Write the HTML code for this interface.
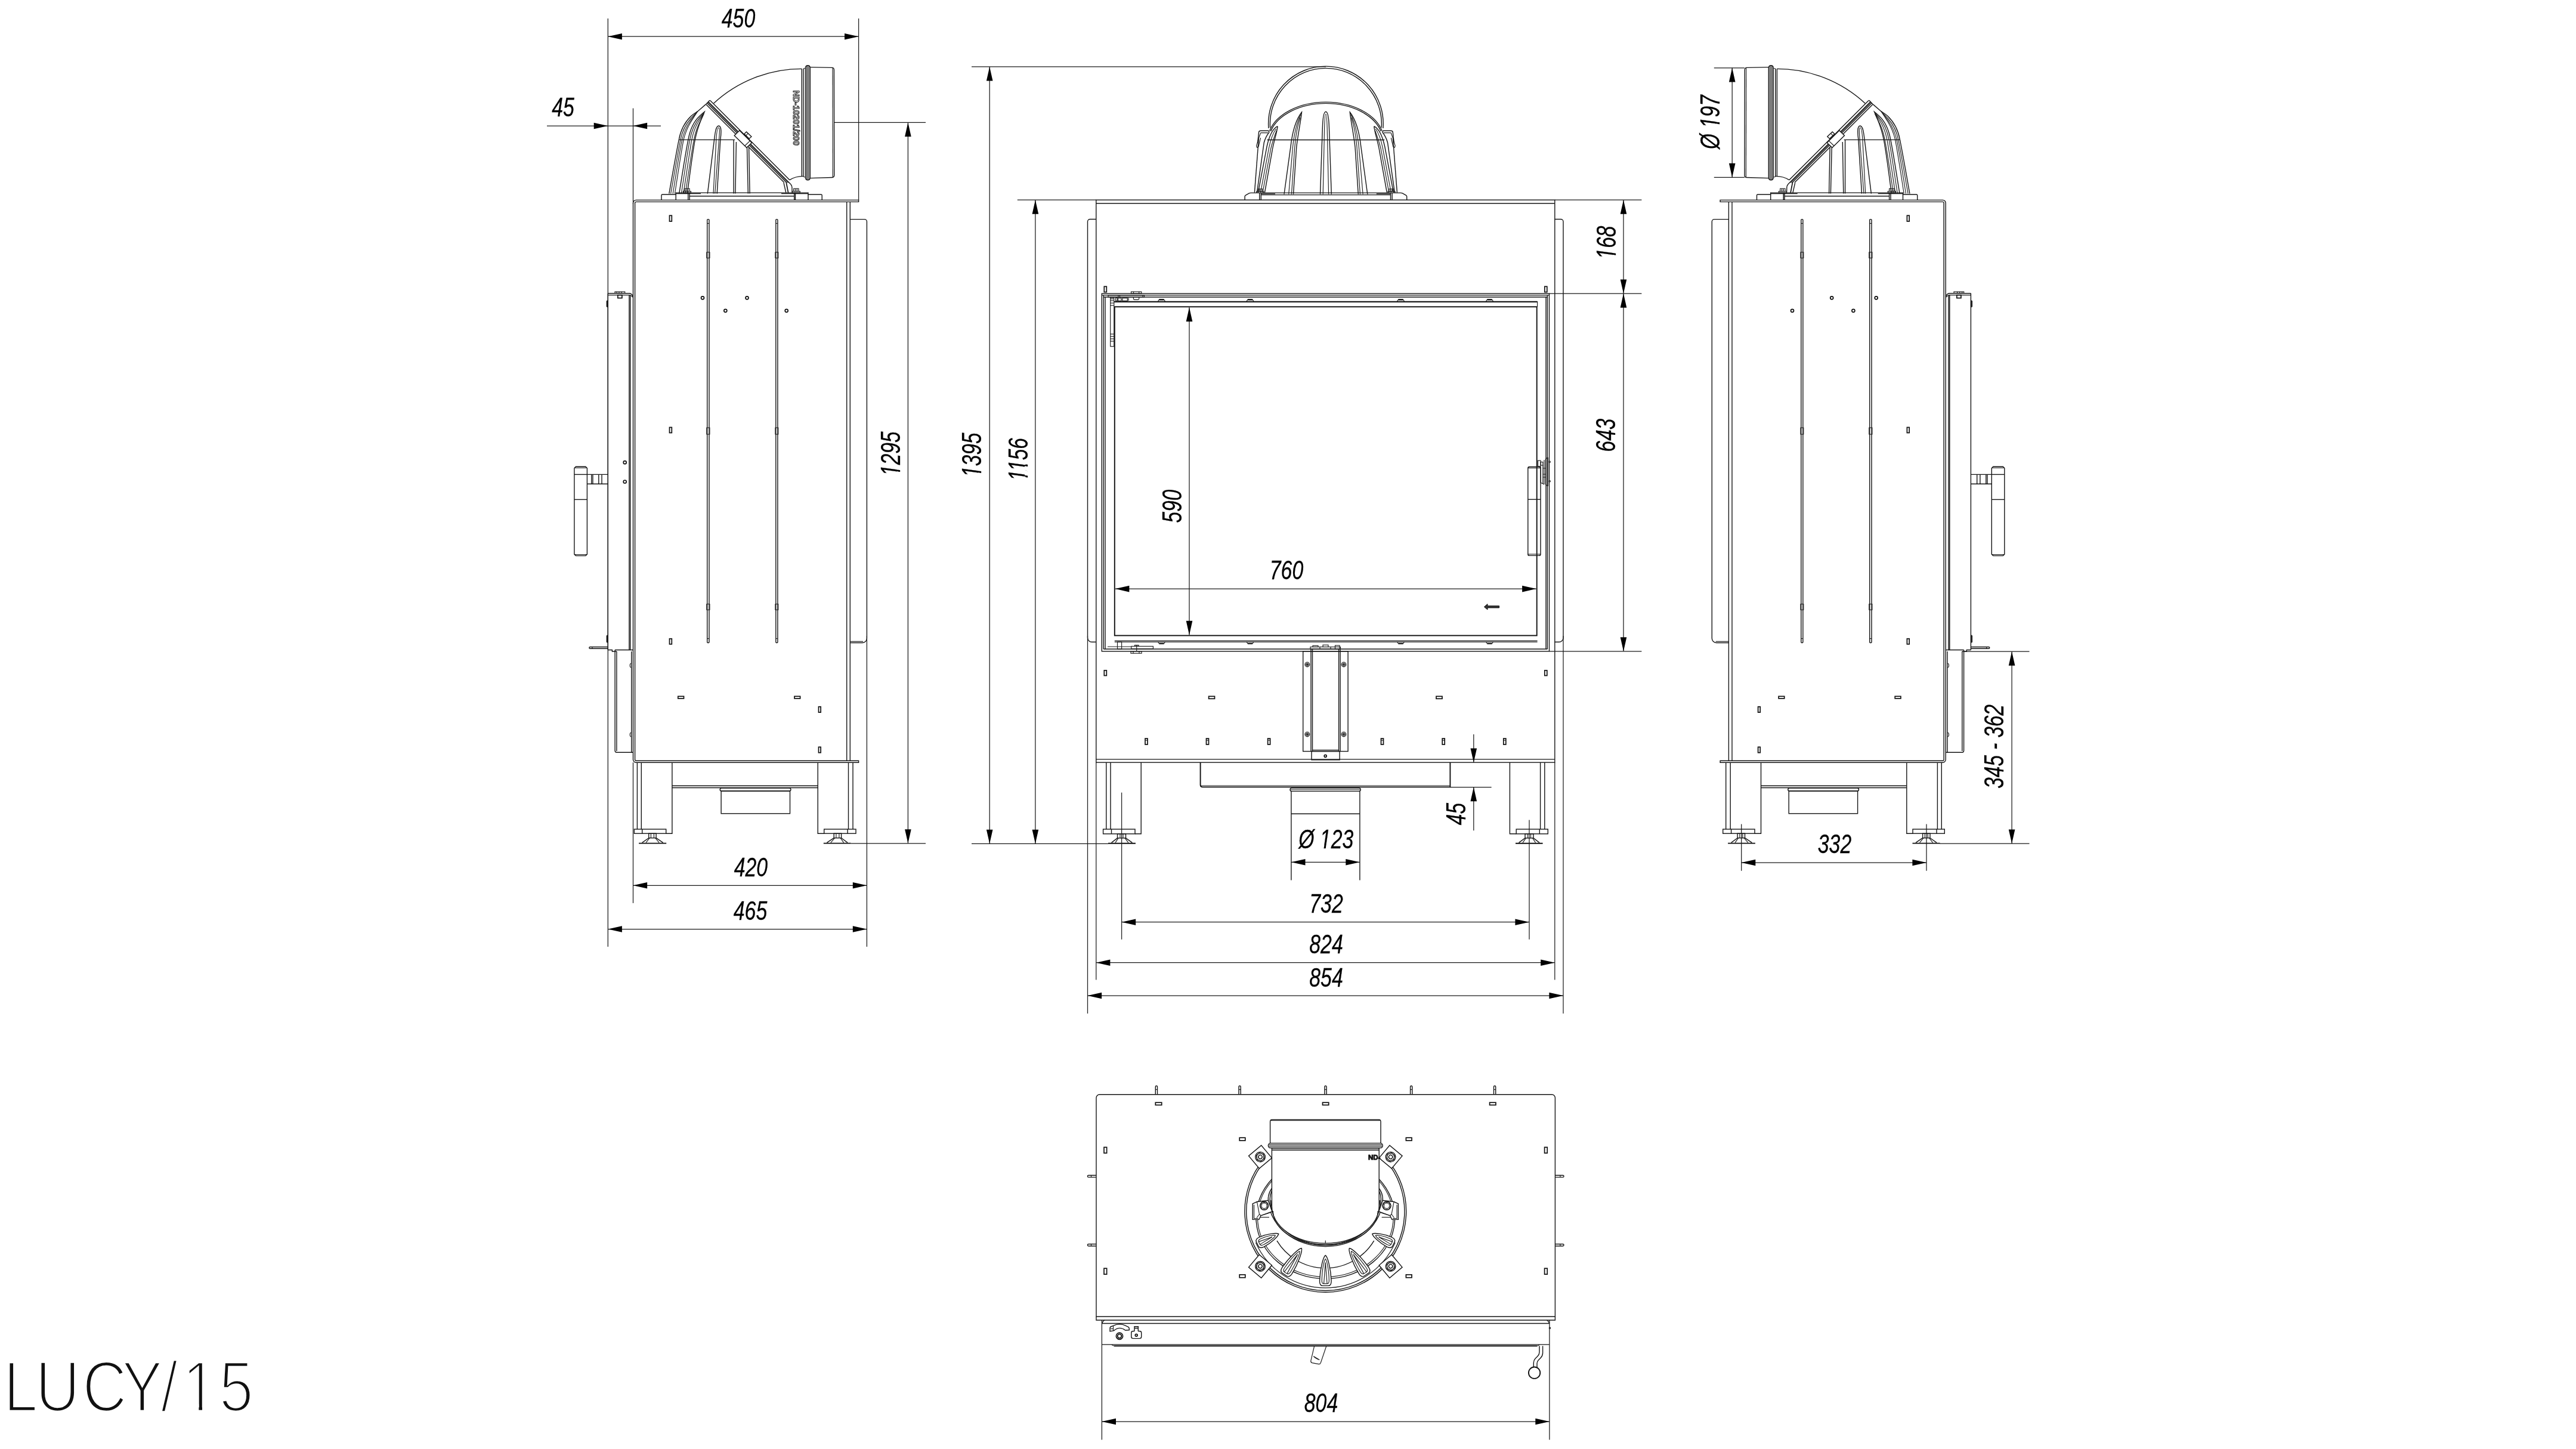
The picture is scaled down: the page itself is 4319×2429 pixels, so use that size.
<!DOCTYPE html>
<html lang="en"><head><meta charset="utf-8"><title>LUCY/15</title>
<style>
html,body{margin:0;padding:0;background:#fff}
body{width:4319px;height:2429px;overflow:hidden}
svg{display:block;will-change:transform;opacity:.999}
.l{fill:none;stroke:#151515;stroke-width:1.4}
.w{fill:#fff;stroke:#151515;stroke-width:1.4}
.k{fill:none;stroke:#111;stroke-width:1.9}
.s{fill:none;stroke:#111;stroke-width:1.7}
.n{fill:none;stroke:#1c1c1c;stroke-width:1.15}
.d{fill:none;stroke:#1a1a1a;stroke-width:1.25}
.a{fill:#000;stroke:none}
.dt{font-family:"Liberation Sans",sans-serif;font-style:italic;fill:#000;text-anchor:middle;stroke:#000;stroke-width:.3}
.nd{font-family:"Liberation Sans",sans-serif;font-weight:bold;fill:#fff;stroke:#111;stroke-width:1}
.ttl{font-family:"Liberation Sans",sans-serif;fill:#111;stroke:#fff;stroke-width:4.6px;paint-order:fill stroke}
</style></head><body>
<svg width="4319" height="2429" viewBox="0 0 4319 2429">
<rect x="0" y="0" width="4319" height="2429" fill="#fff"/>
<defs><g id="side">
<path class="l" d="M1439.6,335.4H1066.5A5,5 0 0 0 1061.5,340.4V1273.2A5,5 0 0 0 1066.5,1278.2H1439.6V1275.2H1066.6A2,2 0 0 1 1064.6,1273.2V340.4A2,2 0 0 1 1066.6,338.4H1439.6Z"/>
<path class="l" d="M1419.7,338.4L1419.7,1275.2"/>
<path class="l" d="M1425.3,338.4L1425.3,1275.2"/>
<path class="l" d="M1425.3,367.6H1449.4A4,4 0 0 1 1453.4,371.6V1070A7.5,7.5 0 0 1 1446,1077.5H1425.3"/>
<path class="n" d="M1425.3,1075.3L1447,1075.3"/>
<rect class="l" x="1185.7" y="367.6" width="3.3" height="709.9" rx="1.2"/>
<path class="n" d="M1185.7,374.5L1189,374.5"/>
<path class="n" d="M1185.7,1070.5L1189,1070.5"/>
<rect class="n" x="1184.8" y="422.8" width="5.1" height="9.7"/>
<rect class="n" x="1184.8" y="717" width="5.1" height="11"/>
<rect class="n" x="1184.8" y="1012.6" width="5.1" height="9.7"/>
<rect class="l" x="1300.8" y="367.6" width="3.1" height="709.9" rx="1.2"/>
<path class="n" d="M1300.8,374.5L1303.9,374.5"/>
<path class="n" d="M1300.8,1070.5L1303.9,1070.5"/>
<rect class="n" x="1299.9" y="422.8" width="4.9" height="9.7"/>
<rect class="n" x="1299.9" y="717" width="4.9" height="11"/>
<rect class="n" x="1299.9" y="1012.6" width="4.9" height="9.7"/>
<rect class="s" x="1122.5" y="361.3" width="3.8" height="9.7"/>
<rect class="s" x="1122.5" y="716.4" width="3.8" height="9.1"/>
<rect class="s" x="1122.5" y="1070.7" width="3.8" height="9.1"/>
<rect class="s" x="1136.8" y="1167.3" width="9.7" height="3.6"/>
<rect class="s" x="1332" y="1167.3" width="9.6" height="3.6"/>
<rect class="s" x="1372.5" y="1184.7" width="3.6" height="9.4"/>
<rect class="s" x="1372.5" y="1252.3" width="3.6" height="9.4"/>
<circle class="s" cx="1178" cy="499.3" r="2.5"/>
<circle class="s" cx="1252.5" cy="499.3" r="2.5"/>
<circle class="s" cx="1216.3" cy="520.8" r="2.5"/>
<circle class="s" cx="1318.7" cy="520.8" r="2.5"/>
<path class="l" d="M1019.3,491.8H1055.5Q1059,492.2 1061.3,496.6"/>
<path class="l" d="M1019.3,494.6H1055Q1058.5,495 1061.3,498.2"/>
<rect class="n" x="1031" y="489" width="16.7" height="2.4"/>
<path class="n" d="M1034,489L1034,491.4"/>
<path class="n" d="M1038,489L1038,491.4"/>
<path class="n" d="M1042,489L1042,491.4"/>
<rect class="s" x="1035.8" y="494.6" width="7.1" height="5"/>
<path class="l" d="M1054.9,494.6L1054.9,1089.5"/>
<path class="l" d="M1056.7,494.6L1056.7,1089.5"/>
<path class="l" d="M1019.3,491.8L1019.3,1089.5"/>
<path d="M1019.3,503.9H1018Q1017,503.9 1017,505V513.6Q1017,514.7 1018,514.7H1019.3ZM1019.3,1065H1018Q1017,1065 1017,1066V1076Q1017,1077 1018,1077H1019.3Z" fill="#222" stroke="#111" stroke-width="0.8"/>
<path class="l" d="M965.4,782.3H981.9L984.4,784.8V929.1L981.9,931.6H965.4L962.9,929.1V784.8Z"/>
<path class="n" d="M963.5,784.3L983.8,784.3"/>
<path class="l" d="M962.9,795.4L984.4,795.4"/>
<path class="l" d="M962.9,837.4L984.4,837.4"/>
<path class="n" d="M963.5,929.6L983.8,929.6"/>
<path class="l" d="M984.4,795.4H1019.3M984.4,811.2H1019.3"/>
<path class="l" d="M991.7,795.4L991.7,811.2"/>
<path class="l" d="M993.9,795.4L993.9,811.2"/>
<path class="l" d="M1003.8,795.4L1003.8,811.2"/>
<path class="l" d="M1009,795.4L1009,811.2"/>
<path class="l" d="M1019.3,1084.5H989.3A1.4,1.4 0 0 0 989.3,1087.3H1019.3"/>
<path class="n" d="M993,1084.5L993,1087.3"/>
<path class="l" d="M1019.3,1089.5H1026.4V1092H1033.9"/>
<path class="l" d="M1031.1,1089.5H1061.5M1031.1,1089.5V1258.2A3,3 0 0 0 1034.1,1261.2H1061.5"/>
<path class="l" d="M1033.9,1092L1033.9,1259"/>
<path class="l" d="M1058.7,1092L1058.7,1261.2"/>
<path class="n" d="M1058.7,1112A2.5,3.5 0 0 0 1058.7,1119M1058.7,1228A2.5,3.5 0 0 0 1058.7,1235"/>
<path class="l" d="M1068.4,1278.2V1390M1075.3,1278.2V1390M1126.9,1278.2V1397.2H1116.7"/>
<rect class="l" x="1063.4" y="1390" width="53.3" height="7.2"/>
<path class="l" d="M1076.7,1390L1076.7,1397.2"/>
<path class="l" d="M1371.2,1278.2V1397.2H1381.7M1422.5,1278.2V1390M1430,1278.2V1390"/>
<rect class="l" x="1381.7" y="1390" width="53.3" height="7.2"/>
<path class="l" d="M1421.1,1390L1421.1,1397.2"/>
<path class="l" d="M1126.9,1317.2H1371.2M1126.9,1320.5H1371.2"/>
<rect class="l" x="1207.2" y="1321" width="118.7" height="5" rx="2.5"/>
<rect class="l" x="1209.1" y="1326" width="115.4" height="37.8"/>
<rect class="l" x="1087.7" y="1397.2" width="12.4" height="7.5"/>
<path class="n" d="M1091.4,1397.2L1091.4,1404.7"/>
<path class="n" d="M1096.4,1397.2L1096.4,1404.7"/>
<path class="l" d="M1087.7,1404.7L1076.6,1412.6M1100.1,1404.7L1111.7,1412.6"/>
<path class="n" d="M1089.2,1404.7L1083.1,1412.6M1098.6,1404.7L1105.2,1412.6"/>
<path class="k" d="M1071.1,1413.6L1117.2,1413.6"/>
<rect class="l" x="1398.2" y="1397.2" width="12.4" height="7.5"/>
<path class="n" d="M1401.9,1397.2L1401.9,1404.7"/>
<path class="n" d="M1406.9,1397.2L1406.9,1404.7"/>
<path class="l" d="M1398.2,1404.7L1386.3,1412.6M1410.6,1404.7L1421.1,1412.6"/>
<path class="n" d="M1399.7,1404.7L1392.8,1412.6M1409.1,1404.7L1414.6,1412.6"/>
<path class="k" d="M1380.8,1413.6L1426.6,1413.6"/>
<path class="l" d="M1109,335.4V327.5Q1109,326 1110.5,326H1133.2V323.1H1355V326H1376.7Q1378.2,326 1378.2,327.5V335.4"/>
<path class="l" d="M1133.2,326V335.4M1355,326V335.4M1153.7,323.1V335.4M1156.1,323.1V335.4M1331.7,323.1V335.4M1333.5,323.1V335.4M1156.1,328.7H1331.7"/>
<path class="n" d="M1133.2,324.6H1175M1310,324.6H1355"/>
<rect class="n" x="1145.4" y="320.6" width="13" height="2.5"/>
<rect class="n" x="1147.7" y="316.2" width="8.4" height="4.4"/>
<path class="n" d="M1150.5,316.2L1150.5,320.6"/>
<path class="n" d="M1153.3,316.2L1153.3,320.6"/>
<rect class="n" x="1328.3" y="320.6" width="13" height="2.5"/>
<rect class="n" x="1330.6" y="316.2" width="8.4" height="4.4"/>
<path class="n" d="M1333.4,316.2L1333.4,320.6"/>
<path class="n" d="M1336.2,316.2L1336.2,320.6"/>
<path class="l" d="M1121.8,324.6C1127.5,292 1133.5,258 1138.3,234.2C1141,219 1147,206 1158.5,194.8C1163,190.5 1167,188.5 1169.7,186.7L1183.4,174.9"/>
<path class="n" d="M1124.6,324.6C1130.5,292 1136,258 1141,234.2C1143.5,221 1149,209 1158.5,198.5C1162.5,194 1166.5,190 1169.7,186.7"/>
<path class="n" d="M1128.2,324.6C1133.5,292 1138.5,258 1143.6,234.2C1146.5,222 1151,212 1157.5,203C1161.5,197.5 1166,191 1169.7,186.7"/>
<path class="n" d="M1131.5,324.6C1136.5,292 1141.5,258 1146.1,234.2C1148.5,224 1152.5,214 1158,205C1162,198.5 1166.5,191.5 1169.7,186.7"/>
<path class="l" d="M1138.7,324.6C1144,292 1149,258 1153.9,234.2C1157,217 1163,204 1172.8,194.8C1176,191.8 1179,189 1181.2,187.3C1179.5,191.5 1177.5,196 1175.9,199.8C1172,209 1168,221 1165.3,234.2C1161,258 1156.5,292 1152.4,324.6"/>
<path class="n" d="M1142.3,324.6C1147.5,292 1152,258 1156.6,234.2C1159.5,219 1165,206.5 1173.5,197L1180,189.5M1145.8,324.6C1151,292 1155.5,258 1159.8,234.2C1162.5,220.5 1167,209 1174,199.5L1180,190.5M1149.2,324.6C1154,292 1159,258 1163.5,234.2C1166,221 1170,210 1175,201.5L1180.3,190.5"/>
<path class="l" d="M1186.3,324.6L1197.5,234.7C1199,222 1200.3,211 1205,211C1209.7,211 1209.5,222 1207.8,234.7L1202.2,324.6"/>
<path class="n" d="M1196,324.6L1200.8,234.7C1201.5,222 1202.5,214 1205,214C1207,214 1206.5,222 1205.5,234.7L1198.7,324.6"/>
<path class="l" d="M1230.1,234.7V324.6M1234.4,238L1232.9,324.6M1252.5,246.8L1254.3,324.6M1255.6,246.8L1257.1,324.6"/>
<path class="l" d="M1138.3,234.4L1232,234.4"/>
<path class="l" d="M1344.3,115.4A217.6,217.6 0 0 0 1196.6,173.2"/>
<path class="l" d="M1324,301.6Q1333,295.6 1347,295.4"/>
<path class="l" d="M1191.0,168.8L1323.9,301.7M1187.8,170.8L1325.7,308.7M1185.7,172.9L1319.2,306.4M1184.3,175.5L1314.8,306.1"/>
<path class="n" d="M1186.9,171.7L1321.6,306.4"/>
<path class="l" d="M1184.3,175.5Q1183.5,174.7 1184.3,173.9L1189.4,168.8Q1190.2,168.0 1191.0,168.8"/>
<path class="l" d="M1314,306.3L1317.8,323.1M1325.7,308.7Q1327.6,311 1327.9,314L1328.1,323.1"/>
<path class="s" d="M1318.1,305.2L1321.6,323.1"/>
<path class="w" d="M1231.2,227.2L1239.9,218.8L1260.5,239.2L1251.8,247.6Z"/>
<path class="n" d="M1248.7,244.5L1257.4,236.1"/>
<path class="w" d="M1247.8,224.4L1251.5,221L1259.9,229.1L1256.2,232.4Z"/>
<path class="n" d="M1250.6,227.1L1254.3,223.7"/>
<path class="l" d="M1344.3,115.4L1344.3,296"/>
<path class="l" d="M1347,115L1347,296.3"/>
<rect class="l" x="1350.4" y="109.8" width="8" height="191.9" rx="3.6"/>
<path class="n" d="M1352.4,110.5L1352.4,301"/>
<path class="n" d="M1354.4,110L1354.4,301.5"/>
<path class="n" d="M1356.4,110.5L1356.4,301"/>
<path class="n" d="M1347,115L1350.3,114.5"/>
<path class="n" d="M1347,296.3L1350.3,297"/>
<path class="l" d="M1358.4,112.6L1395.2,113.4Q1398.3,113.6 1398.4,117L1398.7,294Q1398.6,297.4 1395.2,297.5L1358.4,298.6"/>
<path class="n" d="M1396,113.6L1396.3,297.4"/>
</g></defs>
<use href="#side"/>
<use href="#side" transform="translate(4323.7,0) scale(-1,1)"/>
<circle class="s" cx="1047.7" cy="775.2" r="2.5"/>
<circle class="s" cx="1047.7" cy="807.5" r="2.5"/>
<text class="nd" font-size="14.2" transform="translate(1330,151.6) rotate(90)">ND-10201/200</text>
<path class="d" d="M1019.3,31L1019.3,1587"/>
<path class="d" d="M1439.6,31L1439.6,335.4"/>
<path class="d" d="M1019.3,61.2L1439.6,61.2"/>
<path class="a" d="M1019.3,61.2L1042.9,55.9L1042.9,66.5Z"/>
<path class="a" d="M1439.6,61.2L1416,55.9L1416,66.5Z"/>
<g transform="translate(1238,46.2) rotate(0) scale(0.752,1)"><text class="dt" font-size="45.0">450</text></g>
<path class="d" d="M1061.5,181.5L1061.5,342"/>
<path class="d" d="M917,211L1108,211"/>
<path class="a" d="M1019.3,211L995.7,205.7L995.7,216.3Z"/>
<path class="a" d="M1061.5,211L1085.1,205.7L1085.1,216.3Z"/>
<g transform="translate(944,195.2) rotate(0) scale(0.752,1)"><text class="dt" font-size="45.0">45</text></g>
<path class="d" d="M1398.7,205.3L1552,205.3"/>
<path class="d" d="M1426.6,1413.8L1552,1413.8"/>
<path class="d" d="M1522.4,205.3L1522.4,1413.8"/>
<path class="a" d="M1522.4,205.3L1517.1,228.9L1527.7,228.9Z"/>
<path class="a" d="M1522.4,1413.8L1517.1,1390.2L1527.7,1390.2Z"/>
<g transform="translate(1508.6,760.6) rotate(-90) scale(0.715,1)"><text class="dt" font-size="46.6">1295</text><path fill="#fff" d="M-52.7,1.6L-42.9,1.6L-41.6,-4.9L-51.7,-4.9ZM-38.5,1.6L-28.4,1.6L-27.1,-4.9L-37.2,-4.9Z"/></g>
<path class="d" d="M1061.5,1278.2L1061.5,1513.9"/>
<path class="d" d="M1453.4,1066L1453.4,1587"/>
<path class="d" d="M1061.5,1484.3L1453.4,1484.3"/>
<path class="a" d="M1061.5,1484.3L1085.1,1479L1085.1,1489.6Z"/>
<path class="a" d="M1453.4,1484.3L1429.8,1479L1429.8,1489.6Z"/>
<g transform="translate(1258.9,1469.3) rotate(0) scale(0.752,1)"><text class="dt" font-size="45.0">420</text></g>
<path class="d" d="M1019.3,1557.5L1453.4,1557.5"/>
<path class="a" d="M1019.3,1557.5L1042.9,1552.2L1042.9,1562.8Z"/>
<path class="a" d="M1453.4,1557.5L1429.8,1552.2L1429.8,1562.8Z"/>
<g transform="translate(1258,1541.9) rotate(0) scale(0.752,1)"><text class="dt" font-size="45.0">465</text></g>
<path class="d" d="M2873.8,113.8L2924.9,113.8"/>
<path class="d" d="M2873.8,297.4L2924.9,297.4"/>
<path class="d" d="M2904.2,113.8L2904.2,297.4"/>
<path class="a" d="M2904.2,113.8L2898.9,137.4L2909.5,137.4Z"/>
<path class="a" d="M2904.2,297.4L2898.9,273.8L2909.5,273.8Z"/>
<g transform="translate(2882.7,204.6) rotate(-90) scale(0.715,1)"><text class="dt" font-size="46.6">Ø 197</text><path fill="#fff" d="M-15.2,1.6L-5.4,1.6L-4.1,-4.9L-14.2,-4.9ZM-1,1.6L9.2,1.6L10.4,-4.9L0.3,-4.9Z"/></g>
<path class="d" d="M2919.7,1381.6L2919.7,1459.7"/>
<path class="d" d="M3230,1381.6L3230,1459.7"/>
<path class="d" d="M2919.7,1446L3230,1446"/>
<path class="a" d="M2919.7,1446L2943.3,1440.7L2943.3,1451.3Z"/>
<path class="a" d="M3230,1446L3206.4,1440.7L3206.4,1451.3Z"/>
<g transform="translate(3076,1429.8) rotate(0) scale(0.752,1)"><text class="dt" font-size="45.0">332</text></g>
<path class="d" d="M3293.2,1092.2L3402.5,1092.2"/>
<path class="d" d="M3252.2,1414.1L3402.5,1414.1"/>
<path class="d" d="M3373.1,1092.2L3373.1,1414.1"/>
<path class="a" d="M3373.1,1092.2L3367.8,1115.8L3378.4,1115.8Z"/>
<path class="a" d="M3373.1,1414.1L3367.8,1390.5L3378.4,1390.5Z"/>
<g transform="translate(3358.5,1251.3) rotate(-90) scale(0.715,1)"><text class="dt" font-size="46.6">345 - 362</text></g>
<rect class="l" x="1837.8" y="335.2" width="769" height="942.9"/>
<path class="l" d="M1837.8,341L2606.8,341"/>
<path class="l" d="M1837.8,1272.9L2606.8,1272.9"/>
<path class="l" d="M1837.8,367.5H1827.5A4,4 0 0 0 1823.5,371.5V1069A7.3,7.3 0 0 0 1830.8,1076.3H1837.8"/>
<path class="l" d="M2606.8,367.5H2617A4,4 0 0 1 2621,371.5V1069A7.3,7.3 0 0 1 2613.7,1076.3H2606.8"/>
<rect class="l" x="1847.3" y="492.1" width="750.2" height="599.7"/>
<path class="l" d="M1850.2,494.9V1088M1853,498V1088M1847.3,494.9H2597.5M1850.2,498H2594.4M2594.4,494.9V1088M2592,498V1088M1850.2,1088H2594.4"/>
<path class="n" d="M1867.8,505.2H2577.6M1867.8,506.4H2577.6M1868.8,1074.1H2577.6M1868.8,1076.1H2577.6"/>
<path class="n" d="M2577.6,505.2V514.3"/>
<rect class="k" x="1868.8" y="514.3" width="707.9" height="551.1"/>
<rect class="n" x="1861.7" y="499" width="6.1" height="81.7"/>
<path class="n" d="M1861.7,501L1867.8,501"/>
<path class="n" d="M1861.7,504L1867.8,504"/>
<path class="n" d="M1861.7,508L1867.8,508"/>
<path class="n" d="M1861.7,512L1867.8,512"/>
<path class="n" d="M1861.7,560L1867.8,560"/>
<path class="n" d="M1861.7,564L1867.8,564"/>
<path class="n" d="M1861.7,568L1867.8,568"/>
<path class="n" d="M1861.7,572L1867.8,572"/>
<rect class="n" x="1896.5" y="489" width="17.2" height="3.1"/>
<path class="n" d="M1900.5,489L1900.5,492.1"/>
<path class="n" d="M1909.7,489L1909.7,492.1"/>
<rect class="n" x="1858" y="495" width="60.5" height="3"/>
<path class="n" d="M1875,495L1875,498"/>
<path class="n" d="M1877.5,495L1877.5,498"/>
<path class="n" d="M1916,495L1916,498"/>
<path class="n" d="M1900.4,498V500.5Q1900.4,502.3 1902.5,502.3H1907.5Q1909.7,502.3 1909.7,500.5V498"/>
<rect class="n" x="1870.6" y="499.2" width="2.6" height="5.1"/>
<rect class="n" x="1874.5" y="499.8" width="5.5" height="4.5"/>
<rect class="n" x="1881.8" y="499.8" width="8.5" height="4.5"/>
<path class="n" d="M1892,499.2L1892,504.3"/>
<rect class="n" x="1873.5" y="1076.1" width="7.1" height="11.9"/>
<rect class="n" x="1896.8" y="1083.4" width="36.6" height="4.1"/>
<rect class="n" x="1902.5" y="1081.5" width="6.5" height="1.9"/>
<path class="n" d="M1905.7,1081.5L1905.7,1091.8"/>
<rect class="n" x="1896" y="1091.8" width="18" height="3.4"/>
<path class="n" d="M1900,1091.8L1900,1095.2"/>
<path class="n" d="M1910,1091.8L1910,1095.2"/>
<path class="n" d="M1857,1084L1896.8,1084"/>
<path class="n" d="M1941.5,505.2L1944,501.6H1951L1953.5,505.2M1944,502.8H1951"/>
<path class="n" d="M1941.5,1076.1L1944,1079.3H1951L1953.5,1076.1M1944,1078.2H1951"/>
<path class="n" d="M2090,505.2L2092.5,501.6H2099.5L2102,505.2M2092.5,502.8H2099.5"/>
<path class="n" d="M2090,1076.1L2092.5,1079.3H2099.5L2102,1076.1M2092.5,1078.2H2099.5"/>
<path class="n" d="M2342.5,505.2L2345,501.6H2352L2354.5,505.2M2345,502.8H2352"/>
<path class="n" d="M2342.5,1076.1L2345,1079.3H2352L2354.5,1076.1M2345,1078.2H2352"/>
<path class="n" d="M2491.5,505.2L2494,501.6H2501L2503.5,505.2M2494,502.8H2501"/>
<path class="n" d="M2491.5,1076.1L2494,1079.3H2501L2503.5,1076.1M2494,1078.2H2501"/>
<path class="l" d="M2564.3,782.5H2580.5Q2583,782.5 2583,785V928.9Q2583,931.4 2580.5,931.4H2564.3Q2561.8,931.4 2561.8,928.9V785Q2561.8,782.5 2564.3,782.5Z"/>
<path class="l" d="M2561.8,837.2L2583,837.2"/>
<path class="n" d="M2561.8,929L2583,929"/>
<path class="n" d="M2561.8,784.5L2583,784.5"/>
<path class="n" d="M2591.4,770L2594,767.3H2595.2V814.4H2594L2591.4,811.7Z"/>
<rect class="n" x="2578.5" y="772" width="4.5" height="9.8"/>
<rect class="n" x="2583" y="774.5" width="3.8" height="5.5"/>
<path class="n" d="M2583,781.8V809M2586.8,780V811M2589,771V812M2586.8,785H2591.4M2586.8,795H2591.4M2586.8,800H2591.4M2583,809L2589,812"/>
<circle class="n" cx="2598.2" cy="774.2" r="1.2"/>
<circle class="n" cx="2598.2" cy="806.8" r="1.2"/>
<path d="M2488.4,1017.3L2494,1012.6V1015.7H2513.6V1018.9H2494V1022Z" fill="#333" stroke="#111" stroke-width="1"/>
<rect class="l" x="2184.7" y="1091.8" width="75.4" height="167.7"/>
<path class="l" d="M2198,1088V1259.5M2200.5,1088V1259.5M2244.6,1088V1259.5M2247.1,1088V1259.5"/>
<path class="n" d="M2200.5,1257.3L2244.6,1257.3"/>
<rect class="l" x="2199" y="1259.5" width="47.1" height="14.3"/>
<circle class="s" cx="2222.2" cy="1267.3" r="2"/>
<circle class="n" cx="2191.8" cy="1113.9" r="3.9"/>
<circle class="n" cx="2191.8" cy="1113.9" r="2.2"/>
<circle class="n" cx="2191.8" cy="1113.9" r="0.8"/>
<circle class="n" cx="2253" cy="1113.9" r="3.9"/>
<circle class="n" cx="2253" cy="1113.9" r="2.2"/>
<circle class="n" cx="2253" cy="1113.9" r="0.8"/>
<circle class="n" cx="2191.8" cy="1230.9" r="3.9"/>
<circle class="n" cx="2191.8" cy="1230.9" r="2.2"/>
<circle class="n" cx="2191.8" cy="1230.9" r="0.8"/>
<circle class="n" cx="2253" cy="1230.9" r="3.9"/>
<circle class="n" cx="2253" cy="1230.9" r="2.2"/>
<circle class="n" cx="2253" cy="1230.9" r="0.8"/>
<rect class="n" x="2197" y="1084.5" width="50.5" height="3.5"/>
<rect class="n" x="2201" y="1082.3" width="9" height="2.2"/>
<rect class="n" x="2218" y="1081.2" width="9" height="3.3"/>
<rect class="n" x="2238.5" y="1082" width="7.5" height="6"/>
<path class="n" d="M2213,1084.5L2213,1088"/>
<path class="n" d="M2231,1084.5L2231,1088"/>
<rect class="s" x="1851.3" y="480.3" width="4" height="9.3"/>
<rect class="s" x="2589.8" y="480.3" width="4" height="9.3"/>
<rect class="s" x="1851.3" y="1123.8" width="4" height="8.7"/>
<rect class="s" x="2589.8" y="1123.8" width="4" height="8.7"/>
<rect class="s" x="2026.6" y="1167.3" width="9.9" height="4"/>
<rect class="s" x="2408" y="1167.3" width="10" height="4"/>
<rect class="s" x="1920" y="1238" width="4" height="10"/>
<path class="n" d="M1920,1241L1924,1241"/>
<rect class="s" x="2022.5" y="1238" width="4" height="10"/>
<path class="n" d="M2022.5,1241L2026.5,1241"/>
<rect class="s" x="2125.6" y="1238" width="4" height="10"/>
<path class="n" d="M2125.6,1241L2129.6,1241"/>
<rect class="s" x="2315.5" y="1238" width="4" height="10"/>
<path class="n" d="M2315.5,1241L2319.5,1241"/>
<rect class="s" x="2418.2" y="1238" width="4" height="10"/>
<path class="n" d="M2418.2,1241L2422.2,1241"/>
<rect class="s" x="2520.8" y="1238" width="4" height="10"/>
<path class="n" d="M2520.8,1241L2524.8,1241"/>
<path class="l" d="M1854.8,1278.1V1390M1862,1278.1V1390M1913.2,1278.1V1397.8H1903"/>
<rect class="l" x="1849.6" y="1390" width="53.4" height="7.8"/>
<path class="l" d="M1863.5,1390L1863.5,1397.8"/>
<path class="l" d="M2589.8,1278.1V1390M2582.6,1278.1V1390M2531.4,1278.1V1397.8H2542.2"/>
<rect class="l" x="2542.2" y="1390" width="53.1" height="7.8"/>
<path class="l" d="M2581.3,1390L2581.3,1397.8"/>
<rect class="l" x="1873.5" y="1397.8" width="14" height="7.1"/>
<path class="n" d="M1878,1397.8L1878,1404.9"/>
<path class="n" d="M1883,1397.8L1883,1404.9"/>
<path class="l" d="M1873.5,1404.9L1863.5,1412.6M1887.5,1404.9L1898.4,1412.6"/>
<path class="n" d="M1875,1404.9L1870,1412.6M1886,1404.9L1891.9,1412.6"/>
<path class="k" d="M1858,1413.7L1903.9,1413.7"/>
<rect class="l" x="2557" y="1397.8" width="14" height="7.1"/>
<path class="n" d="M2561.5,1397.8L2561.5,1404.9"/>
<path class="n" d="M2566.5,1397.8L2566.5,1404.9"/>
<path class="l" d="M2557,1404.9L2546.5,1412.6M2571,1404.9L2581.1,1412.6"/>
<path class="n" d="M2558.5,1404.9L2553,1412.6M2569.5,1404.9L2574.6,1412.6"/>
<path class="k" d="M2541,1413.7L2586.6,1413.7"/>
<path class="k" d="M2012.6,1278.1V1315.6Q2012.6,1319.4 2016.4,1319.4H2431.4V1278.1"/>
<path class="n" d="M2013.5,1317L2431.4,1317"/>
<rect class="l" x="2163" y="1321" width="118.2" height="5.4" rx="2.7"/>
<path class="n" d="M2164,1323.7L2280.2,1323.7"/>
<path class="l" d="M2164.9,1326.4L2164.9,1475.5"/>
<path class="l" d="M2279.9,1326.4L2279.9,1475.5"/>
<path class="l" d="M2164.9,1364.3L2279.9,1364.3"/>
<path class="l" d="M2126.9,215A96.3,96.3 0 1 1 2318.9,215"/>
<path class="l" d="M2129.6,214A93.5,93.5 0 1 1 2316.2,214"/>
<path class="l" d="M2128.6,219.5A97.5,64.8 0 0 1 2317.2,219.5"/>
<path class="l" d="M2130.6,220A95.7,63.3 0 0 1 2315.2,220"/>
<path class="l" d="M2128.1,221.5L2126.8,219.3H2113.5Q2110.8,219.3 2110.5,222L2108.5,240"/>
<path class="l" d="M2317.7,221.5L2319,219.3H2332.3Q2335,219.3 2335.3,222L2337.3,240"/>
<path class="n" d="M2126,222.6H2114.5Q2113.2,222.6 2113,224.5L2111.5,228.5L2106.6,244.5L2107.5,247.3L2110,246.2L2113.5,231"/>
<path class="n" d="M2319.8,222.6H2331.3Q2332.6,222.6 2332.8,224.5L2334.3,228.5L2339.2,244.5L2338.3,247.3L2335.8,246.2L2332.3,231"/>
<path class="l" d="M2110.3,233L2103.4,322.6"/>
<path class="l" d="M2335.5,233L2342.4,322.6"/>
<path class="l" d="M2128.1,221.5Q2122,229 2119.3,239L2107.5,322.6"/>
<path class="l" d="M2317.7,221.5Q2323.8,229 2326.5,239L2338.3,322.6"/>
<path class="l" d="M2142.1,211.6C2133,216 2127,232 2124,246L2109.5,322.6M2142.1,211.6C2141,222 2136,236 2133.5,250L2120.5,322.6"/>
<path class="l" d="M2303.7,211.6C2312.8,216 2318.8,232 2321.8,246L2336.3,322.6M2303.7,211.6C2304.8,222 2309.8,236 2312.3,250L2325.3,322.6"/>
<path class="n" d="M2139.5,216C2133.5,224 2130,236 2127.5,248L2113.5,322.6M2140.3,219C2136.5,229 2133,239 2130.5,250L2117,322.6"/>
<path class="n" d="M2306.3,216C2312.3,224 2315.8,236 2318.3,248L2332.3,322.6M2305.5,219C2309.3,229 2312.8,239 2315.3,250L2328.8,322.6"/>
<path class="l" d="M2153,325.5L2163.9,246.3C2165.5,232 2170,204 2182.5,188C2181.5,200 2176,226 2173.8,246.3L2168.5,325.5"/>
<path class="l" d="M2292.8,325.5L2281.9,246.3C2280.3,232 2275.8,204 2263.3,188C2264.3,200 2269.8,226 2272,246.3L2277.3,325.5"/>
<path class="n" d="M2160.7,325.5L2167.5,246.3C2169,232 2173,208 2181,192M2165.4,325.5L2170.8,246.3C2172,232 2175,212 2180,197"/>
<path class="n" d="M2285.1,325.5L2278.3,246.3C2276.8,232 2272.8,208 2264.8,192M2280.4,325.5L2275,246.3C2273.8,232 2270.8,212 2265.8,197"/>
<path class="l" d="M2213.5,325.5L2217.3,215.3C2217.8,197 2219.5,187.3 2222.9,187.3C2226.3,187.3 2228,197 2228.5,215.3L2232.3,325.5"/>
<path class="n" d="M2218.2,325.5L2220.6,215.3C2221,200 2221.8,191 2222.9,191C2224,191 2224.8,200 2225.2,215.3L2227.6,325.5"/>
<path class="l" d="M2124.5,234.5L2321.3,234.5"/>
<path class="l" d="M2087.1,335.2V329.5Q2087.1,328 2088.4,327.3L2094.5,323.9Q2095.5,323.4 2097,323.4H2348.8Q2350.3,323.4 2351.3,323.9L2357.4,327.3Q2358.7,328 2358.7,329.5V335.2"/>
<path class="l" d="M2111.7,323.4V335.2M2114.3,323.4V335.2M2331.5,323.4V335.2M2334.1,323.4V335.2M2114.3,326.6H2331.5"/>
<path class="n" d="M2114.3,324.8H2138M2307.8,324.8H2331.5"/>
<rect class="n" x="2106.8" y="320.8" width="12" height="2.6"/>
<rect class="n" x="2108.8" y="316.8" width="8" height="4"/>
<path class="n" d="M2111.5,316.8L2111.5,320.8"/>
<path class="n" d="M2114.1,316.8L2114.1,320.8"/>
<rect class="n" x="2327" y="320.8" width="12" height="2.6"/>
<rect class="n" x="2329" y="316.8" width="8" height="4"/>
<path class="n" d="M2331.7,316.8L2331.7,320.8"/>
<path class="n" d="M2334.3,316.8L2334.3,320.8"/>
<path class="d" d="M1629,111.9L2222.9,111.9"/>
<path class="d" d="M1629,1414.3L1858,1414.3"/>
<path class="d" d="M1659.2,111.9L1659.2,1414.3"/>
<path class="a" d="M1659.2,111.9L1653.9,135.5L1664.5,135.5Z"/>
<path class="a" d="M1659.2,1414.3L1653.9,1390.7L1664.5,1390.7Z"/>
<g transform="translate(1645.2,762.6) rotate(-90) scale(0.715,1)"><text class="dt" font-size="46.6">1395</text><path fill="#fff" d="M-52.7,1.6L-42.9,1.6L-41.6,-4.9L-51.7,-4.9ZM-38.5,1.6L-28.4,1.6L-27.1,-4.9L-37.2,-4.9Z"/></g>
<path class="d" d="M1705.8,335.2L1837.8,335.2"/>
<path class="d" d="M1735.9,335.2L1735.9,1414.3"/>
<path class="a" d="M1735.9,335.2L1730.6,358.8L1741.2,358.8Z"/>
<path class="a" d="M1735.9,1414.3L1730.6,1390.7L1741.2,1390.7Z"/>
<g transform="translate(1722.9,770.1) rotate(-90) scale(0.715,1)"><text class="dt" font-size="46.6">1156</text><path fill="#fff" d="M-52.7,1.6L-42.9,1.6L-41.6,-4.9L-51.7,-4.9ZM-38.5,1.6L-28.4,1.6L-27.1,-4.9L-37.2,-4.9ZM-26.8,1.6L-17,1.6L-15.7,-4.9L-25.8,-4.9ZM-12.6,1.6L-2.5,1.6L-1.2,-4.9L-11.3,-4.9Z"/></g>
<path class="d" d="M2606.8,335.2L2752.4,335.2"/>
<path class="d" d="M2597.5,492.1L2752.4,492.1"/>
<path class="d" d="M2597.5,1091.8L2752.4,1091.8"/>
<path class="d" d="M2722,335.2L2722,492.1"/>
<path class="a" d="M2722,335.2L2716.7,358.8L2727.3,358.8Z"/>
<path class="a" d="M2722,492.1L2716.7,468.5L2727.3,468.5Z"/>
<g transform="translate(2708.9,406.6) rotate(-90) scale(0.715,1)"><text class="dt" font-size="46.6">168</text><path fill="#fff" d="M-39.8,1.6L-29.9,1.6L-28.7,-4.9L-38.8,-4.9ZM-25.6,1.6L-15.4,1.6L-14.2,-4.9L-24.3,-4.9Z"/></g>
<path class="d" d="M2722,492.1L2722,1091.8"/>
<path class="a" d="M2722,492.1L2716.7,515.7L2727.3,515.7Z"/>
<path class="a" d="M2722,1091.8L2716.7,1068.2L2727.3,1068.2Z"/>
<g transform="translate(2707.8,729.6) rotate(-90) scale(0.715,1)"><text class="dt" font-size="46.6">643</text></g>
<path class="d" d="M1994,515.3L1994,1064.4"/>
<path class="a" d="M1994,515.3L1988.7,538.9L1999.3,538.9Z"/>
<path class="a" d="M1994,1064.4L1988.7,1040.8L1999.3,1040.8Z"/>
<g transform="translate(1980.6,848.6) rotate(-90) scale(0.715,1)"><text class="dt" font-size="46.6">590</text></g>
<path class="d" d="M1869.8,987.1L2575.7,987.1"/>
<path class="a" d="M1869.8,987.1L1893.4,981.8L1893.4,992.4Z"/>
<path class="a" d="M2575.7,987.1L2552.1,981.8L2552.1,992.4Z"/>
<g transform="translate(2157,971.2) rotate(0) scale(0.752,1)"><text class="dt" font-size="45.0">760</text></g>
<path class="d" d="M2431.4,1319.6L2500.6,1319.6"/>
<path class="d" d="M2470.8,1231L2470.8,1278.1"/>
<path class="a" d="M2470.8,1278.1L2465.5,1254.5L2476.1,1254.5Z"/>
<path class="d" d="M2470.8,1319.6L2470.8,1392.2"/>
<path class="a" d="M2470.8,1319.6L2465.5,1343.2L2476.1,1343.2Z"/>
<g transform="translate(2457,1364.6) rotate(-90) scale(0.715,1)"><text class="dt" font-size="46.6">45</text></g>
<path class="d" d="M2164.9,1445.3L2279.9,1445.3"/>
<path class="a" d="M2164.9,1445.3L2188.5,1440L2188.5,1450.6Z"/>
<path class="a" d="M2279.9,1445.3L2256.3,1440L2256.3,1450.6Z"/>
<g transform="translate(2223.2,1422.1) rotate(0) scale(0.752,1)"><text class="dt" font-size="45.0">Ø 123</text><path fill="#fff" d="M-14.7,1.5L-5.2,1.5L-3.9,-4.7L-13.7,-4.7ZM-0.9,1.5L8.8,1.5L10.1,-4.7L0.3,-4.7Z"/></g>
<path class="d" d="M1880.6,1328.6L1880.6,1574.8"/>
<path class="d" d="M2564,1374.5L2564,1574.8"/>
<path class="d" d="M1880.6,1545.7L2564,1545.7"/>
<path class="a" d="M1880.6,1545.7L1904.2,1540.4L1904.2,1551Z"/>
<path class="a" d="M2564,1545.7L2540.4,1540.4L2540.4,1551Z"/>
<g transform="translate(2223.5,1530) rotate(0) scale(0.752,1)"><text class="dt" font-size="45.0">732</text></g>
<path class="d" d="M1837.8,1278.1L1837.8,1642.5"/>
<path class="d" d="M2606.8,1278.1L2606.8,1642.5"/>
<path class="d" d="M1837.8,1613.7L2606.8,1613.7"/>
<path class="a" d="M1837.8,1613.7L1861.4,1608.4L1861.4,1619Z"/>
<path class="a" d="M2606.8,1613.7L2583.2,1608.4L2583.2,1619Z"/>
<g transform="translate(2223.5,1597.7) rotate(0) scale(0.752,1)"><text class="dt" font-size="45.0">824</text></g>
<path class="d" d="M1823.5,1066L1823.5,1699"/>
<path class="d" d="M2621,1066L2621,1699"/>
<path class="d" d="M1823.5,1669L2621,1669"/>
<path class="a" d="M1823.5,1669L1847.1,1663.7L1847.1,1674.3Z"/>
<path class="a" d="M2621,1669L2597.4,1663.7L2597.4,1674.3Z"/>
<g transform="translate(2223.5,1653.6) rotate(0) scale(0.752,1)"><text class="dt" font-size="45.0">854</text></g>
<path class="l" d="M1838,2207V1840.3A5.5,5.5 0 0 1 1843.5,1834.8H2601.9A5.5,5.5 0 0 1 2607.4,1840.3V2207Z"/>
<path class="l" d="M1838,2207V2213H2607.4V2207"/>
<path class="l" d="M1937.3,1834.8V1821.8A1.6,1.6 0 0 1 1940.5,1821.8V1834.8"/>
<path class="n" d="M1937.3,1826.5L1940.5,1826.5"/>
<path class="l" d="M2077,1834.8V1821.8A1.6,1.6 0 0 1 2080.2,1821.8V1834.8"/>
<path class="n" d="M2077,1826.5L2080.2,1826.5"/>
<path class="l" d="M2220.9,1834.8V1821.8A1.6,1.6 0 0 1 2224.1,1821.8V1834.8"/>
<path class="n" d="M2220.9,1826.5L2224.1,1826.5"/>
<path class="l" d="M2364.6,1834.8V1821.8A1.6,1.6 0 0 1 2367.8,1821.8V1834.8"/>
<path class="n" d="M2364.6,1826.5L2367.8,1826.5"/>
<path class="l" d="M2504.5,1834.8V1821.8A1.6,1.6 0 0 1 2507.7,1821.8V1834.8"/>
<path class="n" d="M2504.5,1826.5L2507.7,1826.5"/>
<path class="l" d="M1838,1970.2H1825A1.6,1.6 0 0 0 1825,1973.4H1838"/>
<path class="n" d="M1829.5,1970.2L1829.5,1973.4"/>
<path class="l" d="M2607.4,1970.2H2620.4A1.6,1.6 0 0 1 2620.4,1973.4H2607.4"/>
<path class="n" d="M2615.9,1970.2L2615.9,1973.4"/>
<path class="l" d="M1838,2085.5H1825A1.6,1.6 0 0 0 1825,2088.7H1838"/>
<path class="n" d="M1829.5,2085.5L1829.5,2088.7"/>
<path class="l" d="M2607.4,2085.5H2620.4A1.6,1.6 0 0 1 2620.4,2088.7H2607.4"/>
<path class="n" d="M2615.9,2085.5L2615.9,2088.7"/>
<rect class="s" x="1937.3" y="1848.2" width="10.4" height="4.2"/>
<rect class="s" x="2217.5" y="1848.2" width="10.2" height="4.2"/>
<rect class="s" x="2497.6" y="1848.2" width="10.3" height="4.2"/>
<rect class="s" x="2078.2" y="1907.2" width="9.6" height="4.8"/>
<rect class="s" x="2357.4" y="1907.2" width="9.6" height="4.8"/>
<rect class="s" x="1851" y="1923.2" width="4.6" height="9.7"/>
<rect class="s" x="2589.6" y="1923.2" width="4.6" height="9.7"/>
<rect class="s" x="1851" y="2126.2" width="4.6" height="9.9"/>
<rect class="s" x="2589.6" y="2126.2" width="4.6" height="9.9"/>
<rect class="s" x="2078.2" y="2136.8" width="9.6" height="4.9"/>
<rect class="s" x="2357.4" y="2136.8" width="9.6" height="4.9"/>
<path class="d" d="M1847.4,2213V2413.6M2597.9,2213V2413.6"/>
<path class="l" d="M1847.4,2218.5L1850,2214.2L1852,2213.2M2597.9,2218.5L2595.3,2214.2L2593.3,2213.2"/>
<path class="l" d="M1847.4,2218.5L2597.9,2218.5"/>
<path class="l" d="M1847.4,2253.9L2597.9,2253.9"/>
<path class="k" d="M1868,2256.2L2577.4,2256.2"/>
<path class="n" d="M1864,2254.5L1868,2256.2"/>
<path class="n" d="M2577.4,2256.2L2581,2254.5"/>
<circle class="n" cx="2598.5" cy="2226.3" r="1.2"/>
<path class="l" d="M1861,2231.6V2226.5Q1861,2224.3 1863.5,2223.5L1866.5,2222.3Q1877,2217.2 1887.5,2222.3L1892,2224.5Q1893.5,2225.6 1893.3,2229.5L1886.8,2230Q1877,2222.5 1867.5,2230.6Z"/>
<path class="n" d="M1866.5,2222.3L1866.5,2231"/>
<path class="n" d="M1862,2227.5L1866.5,2227.5"/>
<circle class="s" cx="1877" cy="2239.7" r="5.6"/>
<circle class="s" cx="1877" cy="2239.7" r="3.3"/>
<path class="l" d="M1902,2231.5V2223.8H1908.3V2231.5M1902,2226.5H1908.3"/>
<path class="l" d="M1902,2231.5H1899.5Q1896.8,2231.5 1896.8,2234.2V2240.8Q1896.8,2243.6 1899.5,2243.6H1911Q1913.7,2243.6 1913.7,2240.8V2234.2Q1913.7,2231.5 1911,2231.5H1908.3"/>
<circle class="s" cx="1905.2" cy="2238.3" r="1.9"/>
<path class="n" d="M2203.6,2256.5L2197.8,2281Q2197.3,2283.7 2200,2284.6L2210.8,2286.6Q2213.6,2286.9 2214.4,2284.3L2223.8,2256.5"/>
<path class="n" d="M2202.2,2273.5L2212.3,2279.5Q2206,2278 2202.2,2273.5Z"/>
<path class="l" d="M2581,2256.2V2266.5Q2581,2270.5 2578,2273.5L2574,2277.5Q2571.3,2280.3 2571.3,2284.5V2291.5M2586.6,2256.2V2268Q2586.6,2272.5 2583.3,2276L2579.4,2280Q2577,2282.5 2577,2285.5V2292.5"/>
<circle class="k" cx="2572.6" cy="2301.2" r="9.7"/>
<path class="d" d="M1847.4,2383L2597.9,2383"/>
<path class="a" d="M1847.4,2383L1871,2377.7L1871,2388.3Z"/>
<path class="a" d="M2597.9,2383L2574.3,2377.7L2574.3,2388.3Z"/>
<g transform="translate(2215,2367.4) rotate(0) scale(0.752,1)"><text class="dt" font-size="45.0">804</text></g>
<path class="l" d="M2119.3,1943A135.4,135.4 0 1 0 2325.3,1943"/>
<path class="l" d="M2121.5,1944.8A132.6,132.6 0 1 0 2323.1,1944.8"/>
<path class="l" d="M2132.5,1976.4A116.3,102.2 0 1 0 2312.1,1976.4"/>
<path class="n" d="M2132.5,1979.6A113.8,99.7 0 1 0 2312.1,1979.6"/>
<path class="l" d="M2140.9,2079.8A95,95 0 0 0 2303.7,2079.8"/>
<path class="n" d="M2105.4,2083A128,128 0 0 0 2339.2,2083"/>
<g transform="translate(2222.3,2030.9) rotate(90)">
<path class="w" d="M73.5,0C75.5,-3.43 94.9,-9.016000000000002 116.5,-9.8Q124.5,-9.8 124.5,-4.41V4.41Q124.5,9.8 116.5,9.8C94.9,9.016000000000002 75.5,3.43 73.5,0Z"/>
<path class="n" d="M79.5,0C81.5,-2.1266 94.9,-5.468400000000001 115.5,-6.0760000000000005Q121.0,-6.0760000000000005 121.0,-2.7342000000000004V2.7342000000000004Q121.0,6.0760000000000005 115.5,6.0760000000000005C94.9,5.468400000000001 81.5,2.1266 79.5,0Z"/>
<path class="n" d="M85.5,0L121.0,-2.7342000000000004M85.5,0L121.0,2.7342000000000004"/>
</g>
<g transform="translate(2222.3,2030.9) rotate(57)">
<path class="w" d="M73.5,0C75.5,-3.43 95.5,-9.016000000000002 118,-9.8Q126,-9.8 126,-4.41V4.41Q126,9.8 118,9.8C95.5,9.016000000000002 75.5,3.43 73.5,0Z"/>
<path class="n" d="M79.5,0C81.5,-2.1266 95.5,-5.468400000000001 117,-6.0760000000000005Q122.5,-6.0760000000000005 122.5,-2.7342000000000004V2.7342000000000004Q122.5,6.0760000000000005 117,6.0760000000000005C95.5,5.468400000000001 81.5,2.1266 79.5,0Z"/>
<path class="n" d="M85.5,0L122.5,-2.7342000000000004M85.5,0L122.5,2.7342000000000004"/>
</g>
<g transform="translate(2222.3,2030.9) rotate(123)">
<path class="w" d="M73.5,0C75.5,-3.43 95.5,-9.016000000000002 118,-9.8Q126,-9.8 126,-4.41V4.41Q126,9.8 118,9.8C95.5,9.016000000000002 75.5,3.43 73.5,0Z"/>
<path class="n" d="M79.5,0C81.5,-2.1266 95.5,-5.468400000000001 117,-6.0760000000000005Q122.5,-6.0760000000000005 122.5,-2.7342000000000004V2.7342000000000004Q122.5,6.0760000000000005 117,6.0760000000000005C95.5,5.468400000000001 81.5,2.1266 79.5,0Z"/>
<path class="n" d="M85.5,0L122.5,-2.7342000000000004M85.5,0L122.5,2.7342000000000004"/>
</g>
<g transform="translate(2222.3,2030.9) rotate(25.5)">
<path class="w" d="M87,0C89,-3.15 103.6,-8.280000000000001 118.5,-9Q126.5,-9 126.5,-4.05V4.05Q126.5,9 118.5,9C103.6,8.280000000000001 89,3.15 87,0Z"/>
<path class="n" d="M93,0C95,-1.9529999999999998 103.6,-5.022 117.5,-5.58Q123.0,-5.58 123.0,-2.511V2.511Q123.0,5.58 117.5,5.58C103.6,5.022 95,1.9529999999999998 93,0Z"/>
<path class="n" d="M99,0L123.0,-2.511M99,0L123.0,2.511"/>
</g>
<g transform="translate(2222.3,2030.9) rotate(154.5)">
<path class="w" d="M87,0C89,-3.15 103.6,-8.280000000000001 118.5,-9Q126.5,-9 126.5,-4.05V4.05Q126.5,9 118.5,9C103.6,8.280000000000001 89,3.15 87,0Z"/>
<path class="n" d="M93,0C95,-1.9529999999999998 103.6,-5.022 117.5,-5.58Q123.0,-5.58 123.0,-2.511V2.511Q123.0,5.58 117.5,5.58C103.6,5.022 95,1.9529999999999998 93,0Z"/>
<path class="n" d="M99,0L123.0,-2.511M99,0L123.0,2.511"/>
</g>
<path class="l" d="M2132.4,1992Q2126.8,2000 2126.3,2008.5A96,81.1 0 0 0 2318.3,2008.5Q2317.8,2000 2312.2,1992"/>
<path class="l" d="M2132.4,1996Q2129.2,2003 2129.2,2009.5A93.1,78 0 0 0 2315.4,2009.5Q2315.4,2003 2312.2,1996"/>
<path class="n" d="M2131,2012A91.3,74 0 0 0 2313.6,2012"/>
<path class="w" d="M2132.4,1924V2022.3A89.9,61.8 0 0 0 2312.2,2022.3V1924Z"/>
<path class="n" d="M2134.5,2030A87.8,57 0 0 0 2310.1,2030"/>
<path class="n" d="M2222.3,2079.5L2222.3,2084"/>
<path class="w" d="M2129.6,1917V1880.3Q2129.6,1876.6 2133.3,1876.6H2311.3Q2315,1876.6 2315,1880.3V1917"/>
<path class="n" d="M2131,1878.3L2313.6,1878.3"/>
<rect class="w" x="2126.4" y="1916.4" width="191.8" height="7.8" rx="3.6"/>
<path class="n" d="M2127.5,1918.8L2317.1,1918.8"/>
<path class="n" d="M2127.5,1921.4L2317.1,1921.4"/>
<path class="n" d="M2132.4,1926.3L2312.2,1926.3"/>
<path class="n" d="M2132.4,1928.5L2312.2,1928.5"/>
<g transform="translate(2113,1939.4) rotate(-40)">
<rect class="w" x="-13.8" y="-13.8" width="27.6" height="27.6"/>
<circle class="l" cx="0" cy="0" r="8.3"/>
<path class="n" d="M-7.1,0L-3.6,-6.2H3.6L7.1,0L3.6,6.2H-3.6Z"/>
<circle class="n" cx="0" cy="0" r="6.1"/>
<circle class="l" cx="0" cy="0" r="3.2"/>
</g>
<g transform="translate(2331.6,1939.4) rotate(40)">
<rect class="w" x="-13.8" y="-13.8" width="27.6" height="27.6"/>
<circle class="l" cx="0" cy="0" r="8.3"/>
<path class="n" d="M-7.1,0L-3.6,-6.2H3.6L7.1,0L3.6,6.2H-3.6Z"/>
<circle class="n" cx="0" cy="0" r="6.1"/>
<circle class="l" cx="0" cy="0" r="3.2"/>
</g>
<g transform="translate(2113,2122.7) rotate(40)">
<rect class="w" x="-13.8" y="-13.8" width="27.6" height="27.6"/>
<circle class="l" cx="0" cy="0" r="8.3"/>
<path class="n" d="M-7.1,0L-3.6,-6.2H3.6L7.1,0L3.6,6.2H-3.6Z"/>
<circle class="n" cx="0" cy="0" r="6.1"/>
<circle class="l" cx="0" cy="0" r="3.2"/>
</g>
<g transform="translate(2331.6,2122.7) rotate(-40)">
<rect class="w" x="-13.8" y="-13.8" width="27.6" height="27.6"/>
<circle class="l" cx="0" cy="0" r="8.3"/>
<path class="n" d="M-7.1,0L-3.6,-6.2H3.6L7.1,0L3.6,6.2H-3.6Z"/>
<circle class="n" cx="0" cy="0" r="6.1"/>
<circle class="l" cx="0" cy="0" r="3.2"/>
</g>
<path class="w" d="M2100.2,2017.8L2107.5,2014.5L2126.3,2012.3L2132.9,2031L2114.1,2037.7L2110.8,2044.4L2100.2,2044.4Z"/>
<path class="n" d="M2107.5,2014.5L2111.5,2035.5L2114.1,2037.7"/>
<path class="n" d="M2102.5,2019.5L2102.5,2042.5L2109.5,2042.5"/>
<path class="n" d="M2111.5,2035.5L2107,2041.5"/>
<circle class="l" cx="2119.6" cy="2021.2" r="7"/>
<circle class="n" cx="2119.6" cy="2021.2" r="4.6"/>
<path class="n" d="M2112.7,2021.2L2116.1,2015.2H2123.1L2126.5,2021.2L2123.1,2027.2H2116.1Z"/>
<path class="n" d="M2114.1,2037.7L2129,2033"/>
<path class="n" d="M2113,2040.5L2128,2040.5"/>
<path class="w" d="M2344.4,2017.8L2337.1,2014.5L2318.3,2012.3L2311.7,2031L2330.5,2037.7L2333.8,2044.4L2344.4,2044.4Z"/>
<path class="n" d="M2337.1,2014.5L2333.1,2035.5L2330.5,2037.7"/>
<path class="n" d="M2342.1,2019.5L2342.1,2042.5L2335.1,2042.5"/>
<path class="n" d="M2333.1,2035.5L2337.6,2041.5"/>
<circle class="l" cx="2325" cy="2021.2" r="7"/>
<circle class="n" cx="2325" cy="2021.2" r="4.6"/>
<path class="n" d="M2331.9,2021.2L2328.5,2015.2H2321.5L2318.1,2021.2L2321.5,2027.2H2328.5Z"/>
<path class="n" d="M2330.5,2037.7L2315.6,2033"/>
<path class="n" d="M2331.6,2040.5L2316.6,2040.5"/>
<text class="nd" font-size="11.5" x="2294" y="1943.8" style="fill:#111">ND-</text>
<g transform="translate(0,2366.3) scale(0.86,1)"><text class="ttl" font-size="120" y="0" x="6.9 69.1 160.7 237.1 313.3 355.4 427.2">LUCY/15</text><path fill="#fff" d="M361.8,4.1H387.6V-12.6H361.8ZM394.2,4.1H419.3V-12.6H394.2Z"/></g>
</svg>
</body></html>
